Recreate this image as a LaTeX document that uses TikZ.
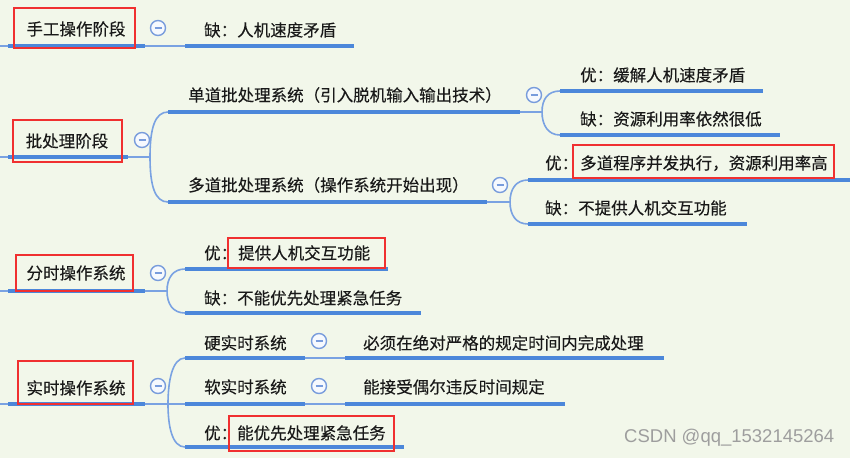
\documentclass[tikz,border=0pt]{standalone}
\usepackage{fontspec}
\newfontfamily\cjk[FakeBold=0.25]{Noto Sans CJK SC}
\newfontfamily\wmfont{Liberation Sans}
\definecolor{bgc}{RGB}{242,247,234}
\definecolor{lineblue}{RGB}{76,135,218}
\definecolor{thinblue}{RGB}{122,162,226}
\definecolor{circblue}{RGB}{120,156,220}
\definecolor{circfill}{RGB}{246,249,254}
\definecolor{boxred}{RGB}{240,48,48}
\definecolor{txtc}{RGB}{25,25,25}
\definecolor{wmc}{RGB}{158,158,158}
\begin{document}
\begin{tikzpicture}[x=1pt,y=-1pt,
 thk/.style={line width=4.5pt, draw=lineblue},
 thn/.style={line width=1.6pt, draw=thinblue},
 txt/.style={anchor=west, inner sep=0pt, text=txtc, font=\cjk\fontsize{16.5}{18}\selectfont, text height=13.7pt, text depth=1.2pt},
 roottxt/.style={txt, anchor=center},
 redbox/.style={draw=boxred, line width=2.4pt},
 fold/.style={circle, draw=circblue, line width=1.4pt, fill=circfill, minimum size=15pt, inner sep=0pt,
   path picture={\draw[circblue, line width=1.5pt] ([xshift=-3.5pt]path picture bounding box.center) -- ([xshift=3.5pt]path picture bounding box.center);}}
]
\fill[bgc] (0,0) rectangle (850,458);
\useasboundingbox (0,0) rectangle (850,458);

% ---------- Row 1: 手工操作阶段 ----------
\draw[thn] (0,46) -- (8,46);
\draw[thk] (8,46) -- (145,46);
\draw[thn] (145,46) -- (185,46);
\draw[thk] (185,46) -- (354,46);
\node[roottxt] (r1) at (76,29) {手工操作阶段};
\node[fold] (f1) at (158,28) {};
\node[txt] (r1a) at (204,30) {缺：人机速度矛盾};

% ---------- Row 2: 批处理阶段 ----------
\draw[thn] (0,157) -- (8,157);
\draw[thk] (8,157) -- (128,157);
\draw[thn] (128,157) -- (150,157);
\draw[thn] (150,157) .. controls (150,128) and (155,112) .. (168,112);
\draw[thn] (150,157) .. controls (150,186) and (155,202) .. (168,202);
\draw[thk] (168,112) -- (520,112);
\draw[thn] (520,112) -- (542,112);
\draw[thn] (542,112) .. controls (542,99) and (548,91) .. (560,91);
\draw[thn] (542,112) .. controls (542,125) and (548,135) .. (560,135);
\draw[thk] (560,91) -- (763,91);
\draw[thk] (560,135) -- (780,135);
\draw[thk] (168,202) -- (487,202);
\draw[thn] (487,202) -- (510,202);
\draw[thn] (510,202) .. controls (510,189) and (516,180) .. (528,180);
\draw[thn] (510,202) .. controls (510,215) and (516,224) .. (528,224);
\draw[thk] (528,180) -- (850,180);
\draw[thk] (528,224) -- (747,224);

\node[roottxt] (r2) at (67,141) {批处理阶段};
\node[fold] (f2) at (142,140) {};
\node[txt] (b1) at (188,95) {单道批处理系统（引入脱机输入输出技术）};
\node[fold] (fb1) at (534,95) {};
\node[txt] (b1a) at (580,75) {优：缓解人机速度矛盾};
\node[txt] (b1b) at (580,119) {缺：资源利用率依然很低};
\node[txt] (b2) at (188,185) {多道批处理系统（操作系统开始出现）};
\node[fold] (fb2) at (500,185) {};
\node[txt] (b2a) at (545,163) {优：};
\node[txt] (b2ax) at (580,163) {多道程序并发执行，资源利用率高};
\node[txt] (b2b) at (545,208) {缺：不提供人机交互功能};

% ---------- Row 3: 分时操作系统 ----------
\draw[thn] (0,291) -- (8,291);
\draw[thk] (8,291) -- (145,291);
\draw[thn] (145,291) -- (167,291);
\draw[thn] (167,291) .. controls (167,278) and (173,269) .. (185,269);
\draw[thn] (167,291) .. controls (167,304) and (173,313) .. (185,313);
\draw[thk] (185,269) -- (388,269);
\draw[thk] (185,313) -- (421,313);
\node[roottxt] (r3) at (76,273) {分时操作系统};
\node[fold] (f3) at (158,273) {};
\node[txt] (t1) at (204,253) {优：};
\node[txt] (t1x) at (238,253) {提供人机交互功能};
\node[txt] (t2) at (204,298) {缺：不能优先处理紧急任务};

% ---------- Row 4: 实时操作系统 ----------
\draw[thn] (0,404) -- (8,404);
\draw[thk] (8,404) -- (145,404);
\draw[thn] (145,404) -- (185,404);
\draw[thn] (168,404) .. controls (168,382) and (172,358) .. (185,358);
\draw[thn] (168,404) .. controls (168,426) and (172,447) .. (185,447);
\draw[thk] (185,358) -- (305,358);
\draw[thn] (305,358) -- (345,358);
\draw[thk] (345,358) -- (664,358);
\draw[thk] (185,404) -- (305,404);
\draw[thn] (305,404) -- (345,404);
\draw[thk] (345,404) -- (565,404);
\draw[thk] (185,447) -- (404,447);
\node[roottxt] (r4) at (76,388) {实时操作系统};
\node[fold] (f4) at (158,386) {};
\node[txt] (s1) at (204,343) {硬实时系统};
\node[fold] (fs1) at (319,341) {};
\node[txt] (s1a) at (363,343) {必须在绝对严格的规定时间内完成处理};
\node[txt] (s2) at (204,387) {软实时系统};
\node[fold] (fs2) at (319,386) {};
\node[txt] (s2a) at (363,387) {能接受偶尔违反时间规定};
\node[txt] (s3) at (204,433) {优：};
\node[txt] (s3x) at (237,433) {能优先处理紧急任务};

% ---------- red highlight boxes ----------
\draw[redbox] (14,8) rectangle (135,48);
\draw[redbox] (13,120) rectangle (122,162);
\draw[redbox] (573,145) rectangle (834,178);
\draw[redbox] (16,255) rectangle (133,291);
\draw[redbox] (228,238) rectangle (385,268);
\draw[redbox] (18,361) rectangle (133,404);
\draw[redbox] (229,416) rectangle (394,451);

% ---------- watermark ----------
\node[anchor=west, inner sep=0pt, text=wmc, font=\wmfont\fontsize{18.5}{20}\selectfont] (wm) at (624,438) {CSDN @qq\_1532145264};
\end{tikzpicture}
\end{document}
